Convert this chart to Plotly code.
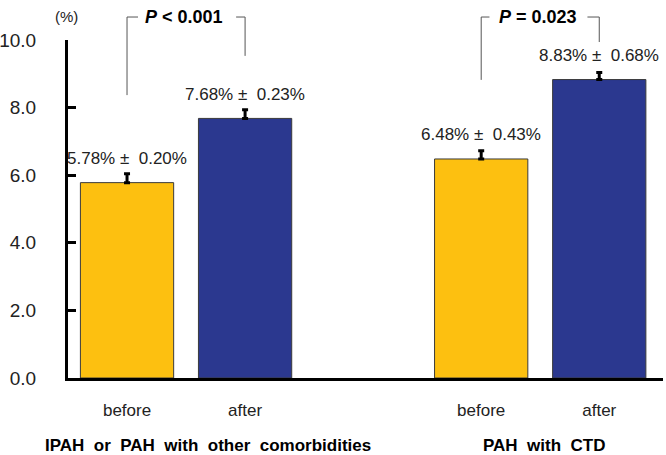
import plotly.graph_objects as go

# ---- data ----
categories = ["g1_before", "g1_after", "gap", "g2_before", "g2_after"]
tick_text = ["before", "after", "", "before", "after"]
bar_cats = ["g1_before", "g1_after", "g2_before", "g2_after"]
values = [5.78, 7.68, 6.48, 8.83]
sd_labels = [0.20, 0.23, 0.43, 0.68]
err_drawn = [0.26, 0.26, 0.24, 0.21]
bar_colors = ["#FDC010", "#2B388F", "#FDC010", "#2B388F"]
group_labels = ["IPAH or PAH with other comorbidities", "PAH with CTD"]
p_labels = ["<b><i>P</i> < 0.001</b>", "<b><i>P</i> = 0.023</b>"]
y_ticks = [0, 2, 4, 6, 8, 10]
Y_MAX = 10

FONT = "Liberation Sans, Arial, sans-serif"

fig = go.Figure()
fig.add_trace(go.Bar(
    x=bar_cats, y=values, width=0.79,
    marker=dict(color=bar_colors, line=dict(color="#3a3a3a", width=1)),
    error_y=dict(type="data", symmetric=False, array=err_drawn,
                 arrayminus=[0] * len(values), color="black", thickness=3, width=3),
    showlegend=False, hoverinfo="skip",
))

annotations = []
for c, v, s in zip(bar_cats, values, sd_labels):
    annotations.append(dict(x=c, y=v, xref="x", yref="y", text=f"{v:.2f}% ±  {s:.2f}%",
                            showarrow=False, yanchor="middle", yshift=24,
                            font=dict(family=FONT, size=17, color="#222")))

# significance brackets (paper y so they are not clipped above the plot area)
shapes = []
line = dict(color="#555", width=1)
brackets = [(0, 1, 8.37, 9.53, 0.5, 0.093, 0.076), (3, 4, 8.82, 9.94, 3.5, 0.07, 0.1)]
top = 10.68 / Y_MAX
for (xa, xb, ya, yb, xm, dl, dr), pl in zip(brackets, p_labels):
    ya, yb = ya / Y_MAX, yb / Y_MAX
    shapes.append(dict(type="line", xref="x", yref="paper", x0=xa, x1=xa, y0=ya, y1=top, line=line))
    shapes.append(dict(type="line", xref="x", yref="paper", x0=xa, x1=xa + dl, y0=top, y1=top, line=line))
    shapes.append(dict(type="line", xref="x", yref="paper", x0=xb - dr, x1=xb, y0=top, y1=top, line=line))
    shapes.append(dict(type="line", xref="x", yref="paper", x0=xb, x1=xb, y0=yb, y1=top, line=line))
    annotations.append(dict(x=xm - 0.02, y=top, xref="x", yref="paper", text=pl, showarrow=False,
                            yanchor="middle", font=dict(family=FONT, size=18, color="black")))

# group labels
for gx, gl in zip([0.69, 3.53], group_labels):
    annotations.append(dict(x=gx, y=0, xref="x", yref="paper",
                            text="<b>" + "  ".join(gl.split(" ")) + "</b>",
                            showarrow=False, yanchor="middle", yshift=-67,
                            font=dict(family=FONT, size=17, color="black")))

annotations.append(dict(x=0, y=1, xref="paper", yref="paper", text="(%)", showarrow=False,
                        xanchor="center", yanchor="middle", xshift=-2, yshift=24,
                        font=dict(family=FONT, size=15, color="#222")))

fig.update_layout(
    width=666, height=455,
    margin=dict(l=68, r=3, t=40, b=77, autoexpand=False),
    paper_bgcolor="white", plot_bgcolor="white",
    shapes=shapes, annotations=annotations,
    xaxis=dict(type="category", categoryorder="array", categoryarray=categories,
               range=[-0.5, 4.54], tickvals=categories, ticktext=tick_text,
               showline=True, linecolor="black", linewidth=3, ticks="",
               ticklabelstandoff=15, automargin=False,
               tickfont=dict(family=FONT, size=17, color="#222"), showgrid=False, zeroline=False),
    yaxis=dict(range=[0, Y_MAX], tickvals=y_ticks, tickformat=".1f",
               showline=True, linecolor="black", linewidth=3,
               ticks="inside", ticklen=8, tickwidth=3, tickcolor="black",
               ticklabelstandoff=25, automargin=False,
               tickfont=dict(family=FONT, size=19, color="#222"), showgrid=False, zeroline=False),
)

fig.write_html("out.html", config={"displayModeBar": False},
               post_script="document.body.style.margin='0';document.body.style.overflow='hidden';")
